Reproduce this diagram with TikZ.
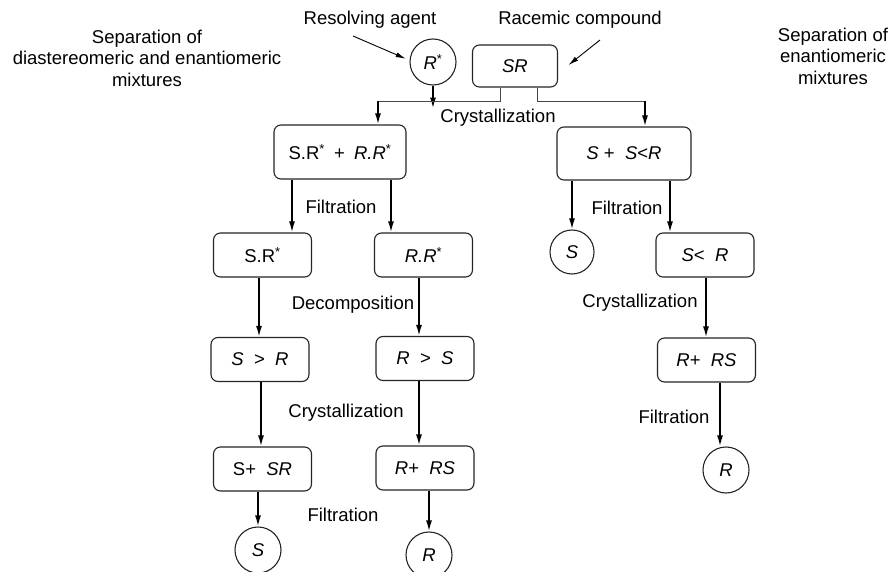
\documentclass[tikz,border=0pt]{standalone}
\usepackage{fontspec}
\setmainfont{Liberation Sans}
\usetikzlibrary{arrows.meta}
\begin{document}
\begin{tikzpicture}[x=1pt,y=-1pt,
  every node/.style={font=\fontsize{18.5}{21.5}\selectfont, inner sep=0pt},
  box/.style={draw=black!85, line width=1.1pt, rounded corners=7pt},
  bw/.style={minimum width=98pt, minimum height=44pt},
  circ/.style={draw=black!85, line width=1.1pt, circle, minimum size=46pt},
  arr/.style={line width=1.7pt, -{Latex[length=11pt,width=6pt]}},
  tarr/.style={line width=0.9pt, -{Latex[length=10pt,width=5pt]}},
  conn/.style={draw=black!72, line width=1pt},
  lbl/.style={align=center}
]
\fill[white] (0,0) rectangle (892,572);
\useasboundingbox (0,0) rectangle (892,572);

% titles and labels
\node[lbl] (tL) at (147,58) {Separation of\\diastereomeric and enantiomeric\\mixtures};
\node[lbl] (tR) at (833,56) {Separation of\\enantiomeric\\mixtures};
\node (res) at (370,20) {Resolving agent};
\node (rac) at (580,20) {Racemic compound};

% nodes
\node[circ] (Rstar) at (433,62) {\textit{R}\textsuperscript{*}};
\node[box, minimum width=85pt, minimum height=42pt] (SR) at (515,66) {\textit{SR}};
\node[box, minimum width=132pt, minimum height=54pt] (mix) at (340,152) {S.R\textsuperscript{*}\hspace{4pt} + \hspace{4pt}\textit{R.R}\textsuperscript{*}};
\node[box, minimum width=134pt, minimum height=53pt] (ss) at (624,153.5) {\textit{S} + \ \textit{S}<\textit{R}};
\node[box,bw] (SRs) at (262.5,255) {S.R\textsuperscript{*}};
\node[box,bw] (RRs) at (423.5,255) {\textit{R.R}\textsuperscript{*}};
\node[box,bw] (SgR) at (260,359.5) {\textit{S} \ > \ \textit{R}};
\node[box,bw] (RgS) at (425,358.5) {\textit{R} \ > \ \textit{S}};
\node[box,bw] (SpSR) at (262.5,469) {S+ \ \textit{SR}};
\node[box,bw] (RpRS) at (425,468) {\textit{R}+ \ \textit{RS}};
\node[circ] (S1) at (258,550) {\textit{S}};
\node[circ] (R1) at (429,555) {\textit{R}};
\node[circ, minimum size=44pt] (S2) at (572,252) {\textit{S}};
\node[box,bw] (SlR) at (705,255) {\textit{S}< \ \textit{R}};
\node[box,bw] (RpRS2) at (706.5,360) {\textit{R}+ \ \textit{RS}};
\node[circ] (R2) at (726,470) {\textit{R}};

% step labels
\node (c1) at (498,118) {Crystallization};
\node (f1) at (341,207) {Filtration};
\node (f2) at (627,208) {Filtration};
\node (d1) at (353,305) {Decomposition};
\node (c2) at (346,413) {Crystallization};
\node (f3) at (343,515) {Filtration};
\node (c3) at (640,303) {Crystallization};
\node (f4) at (674,417) {Filtration};

% diagonal pointers
\coordinate (resA) at (353,36);
\draw[tarr] (resA) -- ([xshift=-4pt]Rstar.172);
\coordinate (racA) at (600,40);
\draw[tarr] (racA) -- ([xshift=10.5pt,yshift=1pt]SR.east);

% top junction
\coordinate (rEnd) at ([yshift=-23pt]Rstar.south);
\draw[arr] (Rstar.south) -- (rEnd);
\coordinate (hL) at ([xshift=38pt,yshift=23pt]mix.north);
\coordinate (hR) at ([xshift=21pt,yshift=25pt]ss.north);
\draw[conn] ([xshift=-15pt]SR.south) |- (hL);
\draw[arr] (hL) -- ([xshift=38pt]mix.north);
\draw[conn] ([xshift=22pt]SR.south) |- (hR);
\draw[arr] (hR) -- ([xshift=21pt]ss.north);

% left branches
\draw[arr] ([xshift=-48pt]mix.south) -- ([xshift=29.5pt]SRs.north);
\draw[arr] ([xshift=51pt]mix.south) -- ([xshift=-32.5pt]RRs.north);
\draw[arr] ([xshift=-3.5pt]SRs.south) -- ([xshift=-1pt]SgR.north);
\draw[arr] ([xshift=-4.5pt]RRs.south) -- ([xshift=-6pt]RgS.north);
\draw[arr] ([xshift=1pt]SgR.south) -- ([xshift=-1.5pt]SpSR.north);
\draw[arr] ([xshift=-6pt]RgS.south) -- ([xshift=-6pt]RpRS.north);
\draw[arr] (SpSR.south -| S1.north) -- (S1.north);
\draw[arr] (RpRS.south -| R1.north) -- (R1.north);

% right branch
\draw[arr] (ss.south -| S2.north) -- (S2.north);
\draw[arr] ([xshift=46pt]ss.south) -- ([xshift=-35pt]SlR.north);
\draw[arr] ([xshift=1pt]SlR.south) -- ([xshift=-0.5pt]RpRS2.north);
\draw[arr] ([xshift=13.5pt]RpRS2.south) -- ([xshift=-6pt]R2.north);
\end{tikzpicture}
\end{document}
